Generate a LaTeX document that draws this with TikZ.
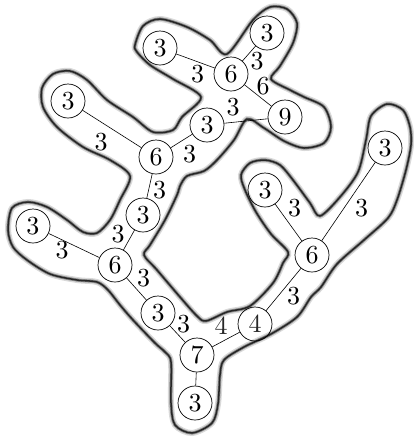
\documentclass[tikz,border=0pt]{standalone}
\usepackage{fontspec}
\setmainfont{lmroman10-regular.otf}
\usepackage{tikz}
\usetikzlibrary{calc}

\begin{document}
\begin{tikzpicture}[x=1pt, y=-1pt,
  vert/.style={draw, circle, minimum size=34pt, inner sep=0pt, line width=0.7pt, font=\fontsize{26}{26}\selectfont},
  wt/.style={inner sep=0pt, font=\fontsize{26}{26}\selectfont},
  edge/.style={line width=0.6pt},
  hull/.style={line width=1.5pt, black!85, preaction={draw, line width=6pt, black!15}, preaction={draw, line width=3.2pt, black!45}}]

\useasboundingbox (0,0) rectangle (414,437);

% Hand drawn hull around the tree
\draw[hull] plot[smooth cycle, tension=0.5] coordinates {
  (135,45) (143,26) (160,19) (187,27) (210,40) (227,54) (253,20) (270,7) (287,9) (297,23)
  (293,43) (280,66) (271,79) (290,90) (304,97) (324,107) (331,127) (324,143) (304,148) (284,141)
  (264,128) (247,119) (234,140) (217,160) (204,171) (187,176) (180,186) (177,195) (165,220) (150,245)
  (144,255) (157,270) (180,297) (197,316) (206,321) (227,312) (250,306) (273,283) (283,263) (288,252)
  (271,234) (256,212) (245,190) (241,175) (250,163) (265,160) (280,165) (293,180) (310,203) (320,216)
  (340,197) (358,172) (366,140) (371,116) (387,104) (403,110) (410,127) (411,145) (406,170) (397,200)
  (388,218) (364,240) (337,264) (321,287) (311,297) (297,317) (271,334) (244,347) (224,360) (220,375)
  (218,404) (212,423) (192,433) (175,425) (171,403) (171,362) (165,352) (155,343) (133,320) (120,305)
  (108,290) (97,282) (77,280) (50,274) (27,260) (13,247) (8,230) (12,208) (28,202) (47,207)
  (67,220) (83,232) (97,233) (110,220) (120,200) (130,176) (110,160) (83,147) (57,127) (43,107)
  (42,88) (53,74) (70,71) (87,80) (107,100) (133,117) (153,132) (173,130) (182,117) (201,97)
  (173,79) (150,65) (137,52)};

% Vertices
\node[vert] (top_left)  at (160,48)  {3};
\node[vert] (top_hub)   at (231,74)  {6};
\node[vert] (top_right) at (267,33)  {3};
\node[vert] (nine)      at (285,117) {9};
\node[vert] (mid_link)  at (207,125) {3};
\node[vert] (left_hub)  at (156,157) {6};
\node[vert] (left_leaf) at (68,101)  {3};
\node[vert] (trunk)     at (143,215) {3};
\node[vert] (low_hub)   at (115,265) {6};
\node[vert] (far_left)  at (33,226)  {3};
\node[vert] (low_link)  at (158,313) {3};
\node[vert] (root)      at (197,355) {7};
\node[vert] (bottom)    at (195,403) {3};
\node[vert, text=black!85] (four) at (255,324) {4};
\node[vert] (right_hub) at (312,255) {6};
\node[vert] (inner)     at (265,190) {3};
\node[vert] (far_right) at (385,148) {3};

% Weighted edges
\draw[edge] (top_left) -- node[wt, shift={(2,13)}] {3} (top_hub);
\draw[edge] (top_hub) -- node[wt, shift={(8,8)}] {3} (top_right);
\draw[edge] (top_hub) -- node[wt, shift={(5,-9)}] {6} (nine);
\draw[edge] (mid_link) -- node[wt, shift={(-13,-14)}] {3} (nine);
\draw[edge] (left_hub) -- node[wt, shift={(8,13)}] {3} (mid_link);
\draw[edge] (left_leaf) -- node[wt, shift={(-11,13)}] {3} (left_hub);
\draw[edge] (left_hub) -- node[wt, shift={(10,4)}] {3} (trunk);
\draw[edge] (trunk) -- node[wt, shift={(-11,-6)}] {3} (low_hub);
\draw[edge] (far_left) -- node[wt, shift={(-12,5)}] {3} (low_hub);
\draw[edge] (low_hub) -- node[wt, shift={(7,-11)}] {3} (low_link);
\draw[edge] (low_link) -- node[wt, shift={(6,-10)}] {3} (root);
\draw[edge] (root) -- node[wt, text=black!85, shift={(-5,-14)}] {4} (four);
\draw[edge] (four) -- node[wt, shift={(10,7)}] {3} (right_hub);
\draw[edge] (inner) -- node[wt, shift={(6,-14)}] {3} (right_hub);
\draw[edge] (far_right) -- node[wt, shift={(13,7)}] {3} (right_hub);
\draw[edge] (root) -- (bottom);

\end{tikzpicture}
\end{document}
